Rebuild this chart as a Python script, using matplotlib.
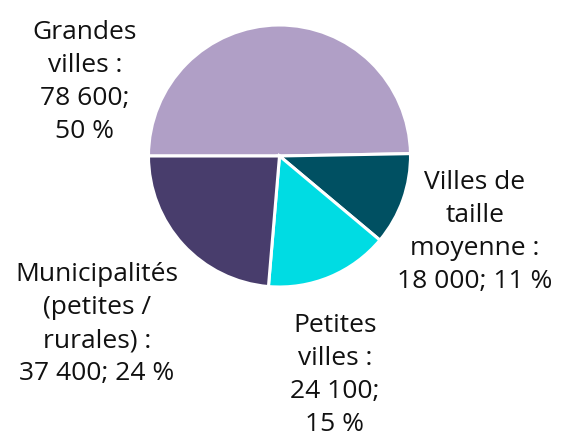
import matplotlib
matplotlib.use("Agg")
import matplotlib.pyplot as plt

categories = ["Grandes villes", "Villes de taille moyenne", "Petites villes", "Municipalités (petites / rurales)"]
values = [78600, 18000, 24100, 37400]
colors = ["#b09fc6", "#005062", "#00dce3", "#483d6c"]
label_names = ["Grandes\nvilles :", "Villes de\ntaille\nmoyenne :", "Petites\nvilles :", "Municipalités\n(petites /\nrurales) :"]
label_seps = ["\n", " ", "\n", " "]  # separator between value and percent
label_pos = [(85, 82), (475, 232), (335, 375), (97, 324)]  # pixel centres

W, H = 561, 441
fig = plt.figure(figsize=(W / 100, H / 100), dpi=100)
ax = fig.add_axes([0, 0, 1, 1])

cx, cy, r = 279.5, H - 156, 131
ax.pie(values, colors=colors, startangle=180, counterclock=False,
       center=(cx, cy), radius=r,
       wedgeprops=dict(edgecolor="white", linewidth=2.2))
ax.set_xlim(0, W)
ax.set_ylim(0, H)
ax.set_aspect("equal")
ax.axis("off")

total = sum(values)
def fmt(v):
    return f"{v:,}".replace(",", " ")

for name, sep, v, (px, py) in zip(label_names, label_seps, values, label_pos):
    pct = round(100 * v / total)
    txt = f"{name}\n{fmt(v)};{sep}{pct} %"
    ax.text(px, H - py, txt, ha="center", va="center", fontsize=19,
            family=["Open Sans", "DejaVu Sans"], color="#111111", linespacing=1.43)

fig.savefig("out.png", dpi=100)
